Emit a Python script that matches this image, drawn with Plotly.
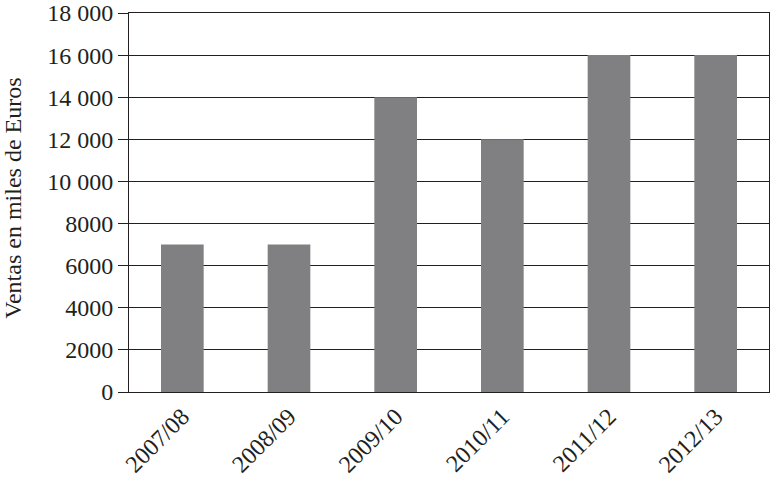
import plotly.graph_objects as go

categories = ["2007/08", "2008/09", "2009/10", "2010/11", "2011/12", "2012/13"]
ventas = [7000, 7000, 14000, 12000, 16000, 16000]
tick_vals = [0, 2000, 4000, 6000, 8000, 10000, 12000, 14000, 16000, 18000]
tick_text = ["0", "2000", "4000", "6000", "8000", "10 000", "12 000", "14 000", "16 000", "18 000"]
y_title = "Ventas en miles de Euros"

font_family = "Liberation Serif, DejaVu Serif, serif"
ink = "#231f20"
fs = 24

fig = go.Figure(go.Bar(x=categories, y=ventas, marker=dict(color="#808083", line=dict(width=0))))

W, H = 773, 487
L, R, T, B = 129, 4, 13, 95
fig.update_layout(
    width=W, height=H,
    margin=dict(l=L, r=R, t=T, b=B),
    plot_bgcolor="white", paper_bgcolor="white",
    bargap=0.6,
    showlegend=False,
    font=dict(family=font_family, size=fs, color=ink),
)
fig.update_xaxes(
    automargin=False,
    showline=True, linecolor=ink, linewidth=1, mirror=True,
    tickangle=-45, ticks="", showgrid=False,
    tickfont=dict(size=fs),
)
fig.update_yaxes(
    automargin=False,
    range=[0, 18000], tickvals=tick_vals, ticktext=tick_text,
    showline=True, linecolor=ink, linewidth=1, mirror=True,
    showgrid=True, gridcolor=ink, gridwidth=1,
    ticks="outside", ticklen=10, tickcolor=ink,
    tickfont=dict(size=fs),
    ticklabeloverflow="allow",
    zeroline=False,
)
plot_w = W - L - R
fig.add_annotation(
    text=y_title, textangle=-90,
    xref="paper", yref="paper",
    x=(13 - L) / plot_w, y=0.51,
    xanchor="center", yanchor="middle",
    showarrow=False, font=dict(size=fs, color=ink),
)
fig.write_html(
    "out.html",
    config={"displayModeBar": False},
    post_script="document.body.style.margin='0';document.body.style.overflow='hidden';",
)
